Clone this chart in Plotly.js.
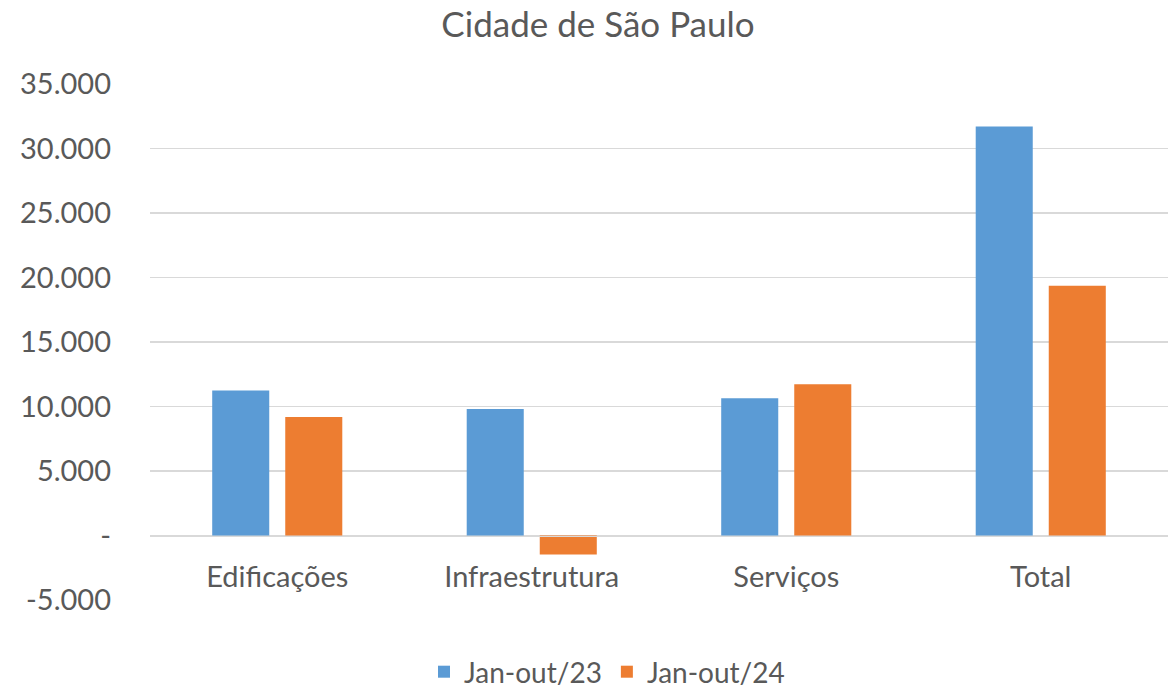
<!DOCTYPE html>
<html>
<head>
<meta charset="utf-8">
<script src="https://cdn.plot.ly/plotly-3.0.1.min.js"></script>
<style>html,body{margin:0;padding:0;background:#fff;}#chart{width:1173px;height:690px;}</style>
</head>
<body>
<div id="chart"></div>
<script>
const categories = ["Edificações", "Infraestrutura", "Serviços", "Total"];
const series23 = [11250, 9810, 10630, 31700];
const series24 = [9190, -1470, 11720, 19360];
const seriesNames = ["Jan-out/23", "Jan-out/24"];
const yTickVals = [-5000, 0, 5000, 10000, 15000, 20000, 25000, 30000, 35000];
const yTickText = ["-5.000", "-", "5.000", "10.000", "15.000", "20.000", "25.000", "30.000", "35.000"];

const FONT = "Lato, 'Open Sans', sans-serif";
const TXT = "#595959";

const data = [
  {type: "bar", name: seriesNames[0], x: categories, y: series23, marker: {color: "#5B9BD5"}, hoverinfo: "skip"},
  {type: "bar", name: seriesNames[1], x: categories, y: series24, marker: {color: "#ED7D31"}, hoverinfo: "skip"}
];

const layout = {
  width: 1173, height: 690,
  paper_bgcolor: "#fff", plot_bgcolor: "#fff",
  margin: {l: 150, r: 5, t: 84, b: 90, pad: 0, autoexpand: false},
  font: {family: FONT, color: TXT, size: 29},
  title: {text: "Cidade de São Paulo", xref: "container", x: 598/1173, xanchor: "center", yref: "container", y: 1 - 25/690, yanchor: "middle", font: {family: FONT, size: 35, color: TXT}},
  barmode: "group",
  bargap: 0.426,
  bargroupgap: 0.219,
  showlegend: true,
  legend: {orientation: "h", xref: "container", yref: "container", x: 607/1173, xanchor: "center", y: 1 - 672/690, yanchor: "middle", font: {family: FONT, size: 28, color: TXT}, itemwidth: 30, tracegroupgap: 0},
  xaxis: {
    type: "category",
    anchor: "free", position: 0.125,
    showline: true, linecolor: "#d9d9d9", linewidth: 1.5,
    showgrid: false, ticks: "", ticklabelstandoff: 15,
    tickfont: {family: FONT, size: 29, color: TXT},
    zeroline: false
  },
  yaxis: {
    range: [-5000, 35000],
    tickvals: yTickVals, ticktext: yTickText,
    showgrid: true, gridcolor: "#d9d9d9", gridwidth: 1.5,
    zeroline: false, showline: false, ticks: "",
    ticklabelstandoff: 38,
    tickfont: {family: FONT, size: 29, color: TXT}
  }
};

Plotly.newPlot("chart", data, layout, {displayModeBar: false, staticPlot: true});
</script>
</body>
</html>
